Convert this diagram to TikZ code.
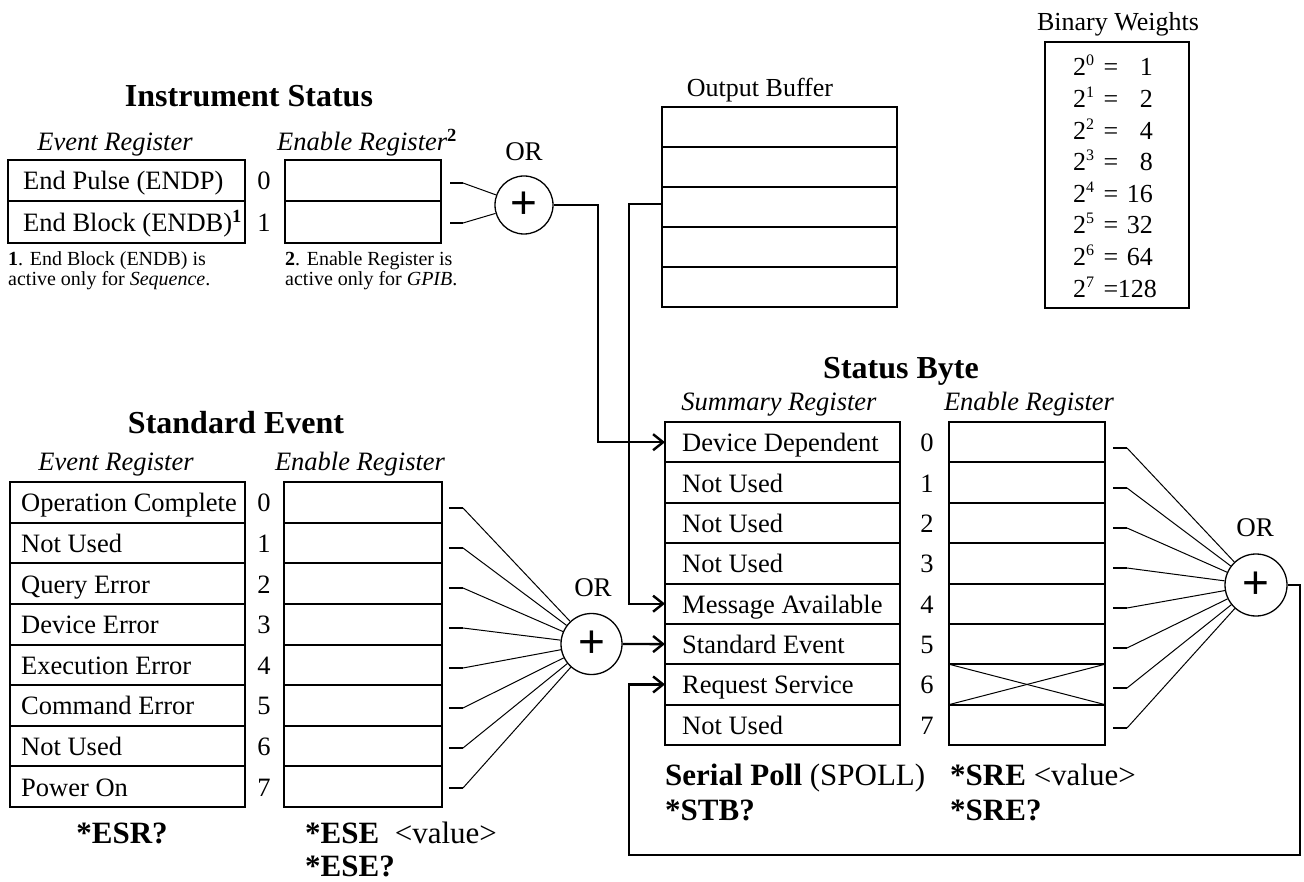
\documentclass[tikz,border=0pt]{standalone}
\usepackage{fontspec}
\setmainfont{Liberation Serif}
\newfontfamily\plusfont{Liberation Sans}
\usetikzlibrary{arrows.meta}
\newcommand\setfs[1]{\fontsize{#1}{#1}\selectfont}
\newcommand\smallsup[1]{\raisebox{10pt}{\setfs{16}#1}}
\tikzset{
  outer/.style={draw, line width=2.6pt},
  cellline/.style={line width=2pt},
  conn/.style={line width=2.4pt},
  arr/.style={conn, -{Straight Barb[length=10pt,width=16pt]}},
  stub/.style={line width=2pt},
  diag/.style={line width=1pt},
  orgate/.style={draw, circle, line width=1.3pt, inner sep=0pt},
  rowtxt/.style={anchor=base west, inner sep=0pt, font=\setfs{26.5}},
  numtxt/.style={anchor=base, inner sep=0pt, font=\setfs{26.5}},
  titletxt/.style={anchor=base, inner sep=0pt, font=\setfs{32}\bfseries},
  sublabel/.style={anchor=base, inner sep=0pt, font=\setfs{26.5}\itshape},
  cmd/.style={anchor=base west, inner sep=0pt, font=\setfs{31}},
  note/.style={anchor=base west, inner sep=0pt, font=\setfs{20}},
  ortxt/.style={anchor=base, inner sep=0pt, font=\setfs{27}},
  plain/.style={inner sep=0pt, font=\setfs{26}},
}
\begin{document}
\begin{tikzpicture}[x=1pt,y=-1pt]
\useasboundingbox (0,0) rectangle (1304,882);

% ---------------- Instrument Status ----------------
\node[titletxt] (istitle) at (249,107) {Instrument Status};
\node[sublabel] (isev) at (115,151) {Event Register};
\node[sublabel, anchor=base west] (isen) at (277,151) {Enable Register\textsuperscript{\upshape\bfseries 2}};
\draw[cellline] (8,201.5) -- (245,201.5);
\draw[outer] (8,160) rectangle (245,243);
\node[rowtxt] (is0) at (23,190) {End Pulse (ENDP)};
\node[rowtxt] (is1) at (23,232) {End Block (ENDB)\textsuperscript{\bfseries 1}};
\node[numtxt] (isn0) at (264,190) {0};
\node[numtxt] (isn1) at (264,232) {1};
\draw[cellline] (285,201.5) -- (441,201.5);
\draw[outer] (285,160) rectangle (441,243);
\node[orgate, minimum size=58pt] (or1) at (524,205) {\plusfont\setfs{46}+};
\node[ortxt] (or1lab) at (524,161) {OR};
\draw[stub] (450,183) -- (463,183) coordinate (ist0);
\draw[stub] (450,223) -- (463,223) coordinate (ist1);
\draw[diag] (ist0) -- (or1);
\draw[diag] (ist1) -- (or1);
\node[note] (n1a) at (8,266) {\textbf{1}. End Block (ENDB) is};
\node[note] (n1b) at (8,286) {active only for \textit{Sequence}.};
\node[note] (n2a) at (285,266) {\textbf{2}. Enable Register is};
\node[note] (n2b) at (285,286) {active only for \textit{GPIB}.};

% ---------------- Output Buffer ----------------
\node[plain, anchor=base] (oblab) at (760,97) {Output Buffer};
\foreach \k in {1,...,4} \draw[cellline] (662,{107+40*\k}) -- (897,{107+40*\k});
\draw[outer] (662,107) rectangle (897,307);
\coordinate (ob3w) at (662,204);

% ---------------- Binary Weights ----------------
\node[plain, anchor=base] (bwlab) at (1118,31) {Binary Weights};
\draw[outer] (1045,42) rectangle (1189,308);
\foreach \v [count=\i from 0] in {1,2,4,8,16,32,64,128} {
  \node[plain, anchor=base west] (bw\i) at (1073,{76+31.6*\i}) {2\smallsup{\i}};
  \node[plain, anchor=base] (bq\i) at (1111,{76+31.6*\i}) {=};
  \node[plain, anchor=base east] (bv\i) at ({1153+4*(\v>99)},{76+31.6*\i}) {\v};
}

% ---------------- Standard Event ----------------
\node[titletxt] (setitle) at (236,434) {Standard Event};
\node[sublabel] (seev) at (116,470) {Event Register};
\node[sublabel] (seen) at (360,470) {Enable Register};
\foreach \k in {1,...,7} {
  \draw[cellline] (10,{482+40.625*\k}) -- (245,{482+40.625*\k});
  \draw[cellline] (284,{482+40.625*\k}) -- (442,{482+40.625*\k});
}
\draw[outer] (10,482) rectangle (245,807);
\draw[outer] (284,482) rectangle (442,807);
\foreach \t [count=\i from 0] in {Operation Complete,Not Used,Query Error,Device Error,Execution Error,Command Error,Not Used,Power On} {
  \node[rowtxt] (se\i) at (21,{502.3+40.625*\i+9.5}) {\t};
  \node[numtxt] (sen\i) at (264,{502.3+40.625*\i+9.5}) {\i};
}
\node[orgate, minimum size=61pt] (or2) at (591.5,644) {\plusfont\setfs{46}+};
\node[ortxt] (or2lab) at (593,596) {OR};
\foreach \i in {0,...,7} {
  \draw[stub] (449,{508+40*\i}) -- (463,{508+40*\i}) coordinate (set\i);
  \draw[diag] (set\i) -- (or2);
}
\node[cmd, anchor=base] (esr) at (122,843) {\textbf{*ESR?}};
\node[cmd] (ese) at (305,843) {\textbf{*ESE}\ \ <value>};
\node[cmd] (eseq) at (305,876) {\textbf{*ESE?}};

% ---------------- Status Byte ----------------
\node[titletxt] (sbtitle) at (901,379) {Status Byte};
\node[sublabel] (sbsum) at (779,410) {Summary Register};
\node[sublabel] (sben) at (1029,410) {Enable Register};
\foreach \k in {1,...,7} {
  \draw[cellline] (665,{422+40.375*\k}) -- (900,{422+40.375*\k});
  \draw[cellline] (949,{422+40.375*\k}) -- (1105,{422+40.375*\k});
}
\draw[diag] (949,{422+40.375*6}) -- (1105,{422+40.375*7});
\draw[diag] (949,{422+40.375*7}) -- (1105,{422+40.375*6});
\draw[outer] (665,422) rectangle (900,745);
\draw[outer] (949,422) rectangle (1105,745);
\foreach \t [count=\i from 0] in {Device Dependent,Not Used,Not Used,Not Used,Message Available,Standard Event,Request Service,Not Used} {
  \node[rowtxt] (sb\i) at (682,{442.2+40.375*\i+9.5}) {\t};
  \node[numtxt] (sbn\i) at (927,{442.2+40.375*\i+9.5}) {\i};
  \coordinate (sb\i w) at (665,{442.2+40.375*\i});
}
\node[orgate, minimum size=62pt] (or3) at (1256,585) {\plusfont\setfs{46}+};
\node[ortxt] (or3lab) at (1255,536) {OR};
\foreach \i in {0,...,7} {
  \draw[stub] (1113,{448+40*\i}) -- (1127,{448+40*\i}) coordinate (sbt\i);
  \draw[diag] (sbt\i) -- (or3);
}
\node[cmd] (spoll) at (665,785) {\textbf{Serial Poll} (SPOLL)};
\node[cmd] (stb) at (665,820) {\textbf{*STB?}};
\node[cmd] (sre) at (950,785) {\textbf{*SRE} <value>};
\node[cmd] (sreq) at (950,820) {\textbf{*SRE?}};

% ---------------- Connectors ----------------
\coordinate (j1) at (598,205);
\coordinate (j2) at (629,204);
\coordinate (lp1) at (1300,855);
\coordinate (lp2) at (629,855);
\draw[arr] (or1.east) -- (j1) |- (sb0w);
\draw[arr] (ob3w) -- (j2) |- (sb4w);
\draw[arr] (or2.east) -- (sb5w);
\draw[arr] (or3.east) -| (lp1) -- (lp2) |- (sb6w);
\end{tikzpicture}
\end{document}
